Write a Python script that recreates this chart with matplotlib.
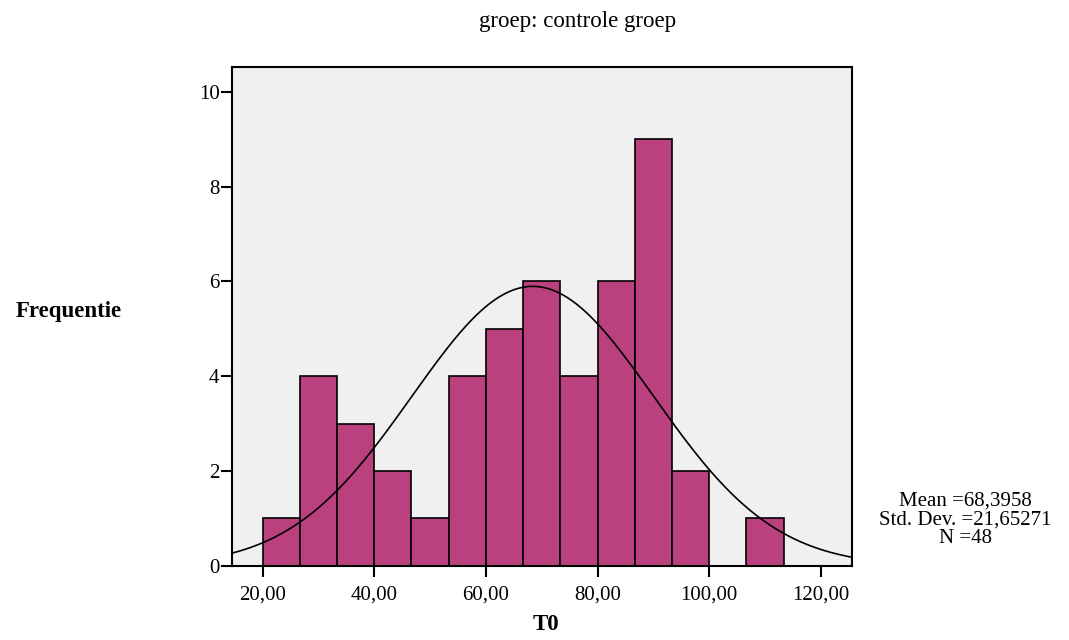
import numpy as np
import matplotlib.pyplot as plt

plt.rcParams['font.family'] = ['Liberation Serif', 'DejaVu Serif']

# histogram data
bin_edges = [20 + i * 20 / 3 for i in range(15)]
counts = [1, 4, 3, 2, 1, 4, 5, 6, 4, 6, 9, 2, 0, 1]
mean = 68.3958
std = 21.65271
n = 48

fig = plt.figure(figsize=(10.69, 6.4), dpi=100)
ax = fig.add_axes([0.217, 0.116, 0.58, 0.779])
ax.set_facecolor('#f0f0f0')

widths = np.diff(bin_edges)
ax.bar(bin_edges[:-1], counts, width=widths, align='edge',
       color='#bb407e', edgecolor='black', linewidth=1.2)

# normal curve
x = np.linspace(14.5, 125.6, 300)
bw = widths[0]
y = n * bw / (std * np.sqrt(2 * np.pi)) * np.exp(-0.5 * ((x - mean) / std) ** 2)
ax.plot(x, y, color='black', linewidth=1.2)

ax.set_xlim(14.5, 125.6)
ax.set_ylim(0, 10.52)
xt = [20, 40, 60, 80, 100, 120]
ax.set_xticks(xt)
ax.set_xticklabels(['20,00', '40,00', '60,00', '80,00', '100,00', '120,00'])
ax.set_yticks([0, 2, 4, 6, 8, 10])
ax.tick_params(direction='out', length=8, width=1.5, labelsize=15)
ax.tick_params(axis='x', pad=6)
ax.tick_params(axis='y', pad=1)
for s in ax.spines.values():
    s.set_linewidth(1.5)

fig.text(0.54, 0.966, 'groep: controle groep', ha='center', va='center', fontsize=16.5)
fig.text(0.064, 0.514, 'Frequentie', ha='center', va='center', fontsize=16.5, fontweight='bold')
fig.text(0.511, 0.025, 'T0', ha='center', va='center', fontsize=16.5, fontweight='bold')
fig.text(0.903, 0.1875, 'Mean =68,3958\nStd. Dev. =21,65271\nN =48',
         ha='center', va='center', fontsize=15, linespacing=0.98)

fig.savefig('out.png', dpi=100)
